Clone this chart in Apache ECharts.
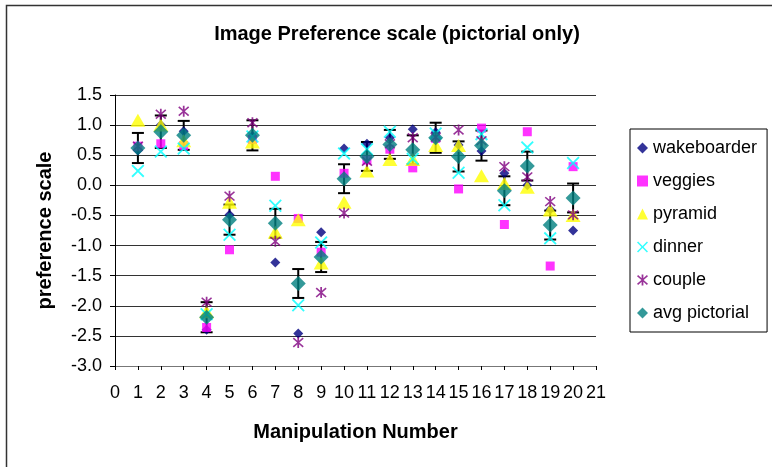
<!DOCTYPE html>
<html>
<head>
<meta charset="utf-8">
<script src="https://cdn.jsdelivr.net/npm/echarts@6/dist/echarts.min.js"></script>
<style>
  html, body { margin: 0; padding: 0; background: #fff; }
  #main { width: 772px; height: 467px; }
</style>
</head>
<body>
<div id="main"></div>
<script>
const xValues = [1, 2, 3, 4, 5, 6, 7, 8, 9, 10, 11, 12, 13, 14, 15, 16, 17, 18, 19, 20];
const wakeboarder = [0.58, 1.0, 0.9, -2.4, -0.49, 0.82, -1.28, -2.46, -0.78, 0.61, 0.69, 0.79, 0.93, 0.88, 0.67, 0.57, 0.2, 0.0, -0.4, -0.75];
const veggies = [0.65, 0.69, 0.66, -2.36, -1.07, 0.76, 0.15, -0.55, -1.11, 0.2, 0.42, 0.6, 0.29, 0.78, -0.06, 0.95, -0.65, 0.89, -1.34, 0.31];
const pyramid = [1.08, 1.0, 0.74, -2.1, -0.28, 0.72, -0.78, -0.57, -1.29, -0.28, 0.24, 0.43, 0.43, 0.66, 0.66, 0.16, 0.03, -0.03, -0.41, -0.5];
const dinner = [0.24, 0.56, 0.61, -2.14, -0.82, 0.81, -0.34, -1.99, -0.95, 0.53, 0.6, 0.89, 0.44, 0.86, 0.21, 0.85, -0.33, 0.63, -0.88, 0.37];
const couple = [0.65, 1.18, 1.23, -1.94, -0.18, 1.04, -0.93, -2.61, -1.78, -0.46, 0.4, 0.69, 0.79, 0.8, 0.92, 0.74, 0.31, 0.14, -0.27, -0.49];
const avgPictorial = [0.62, 0.89, 0.83, -2.19, -0.57, 0.83, -0.63, -1.63, -1.19, 0.11, 0.48, 0.68, 0.59, 0.79, 0.48, 0.66, -0.09, 0.32, -0.66, -0.21];
const errHalf = [0.25, 0.27, 0.24, 0.25, 0.25, 0.25, 0.24, 0.24, 0.25, 0.24, 0.24, 0.24, 0.24, 0.25, 0.25, 0.25, 0.24, 0.24, 0.24, 0.24];
const yTicks = [-3.0, 1.5, 0.5];   // min, max, interval
const xTicks = [0, 21, 1];

const FONT = '"Liberation Sans", Arial, sans-serif';
const crossPath = 'path://M0,1 L1,0 L5,4 L9,0 L10,1 L6,5 L10,9 L9,10 L5,6 L1,10 L0,9 L4,5 Z';
const starPath = 'path://M0,1.5 L1,0.5 L5,4 L9,0.5 L10,1.5 L6,5 L10,8.5 L9,9.5 L5,6 L1,9.5 L0,8.5 L4,5 Z M4.2,0 L5.8,0 L5.8,10 L4.2,10 Z';

function pts(arr) { return arr.map((v, i) => [xValues[i], v]); }

const chart = echarts.init(document.getElementById('main'));

const option = {
  animation: false,
  backgroundColor: '#fff',
  textStyle: { fontFamily: FONT },
  graphic: [{
    type: 'rect',
    shape: { x: 6.5, y: 5.5, width: 800, height: 500 },
    style: { fill: 'none', stroke: '#333', lineWidth: 1.5 },
    silent: true
  }],
  title: {
    text: 'Image Preference scale (pictorial only)',
    left: 392,
    top: 19,
    textAlign: 'center',
    textStyle: { fontFamily: FONT, fontWeight: 'bold', fontSize: 20, color: '#000' }
  },
  grid: { left: 115, right: 176, top: 95, bottom: 101, containLabel: false },
  legend: {
    orient: 'vertical',
    left: 630,
    top: 129,
    itemWidth: 11,
    itemHeight: 11,
    itemGap: 15,
    padding: [10, 10, 10, 7],
    borderColor: '#000',
    borderWidth: 1,
    textStyle: { fontFamily: FONT, fontSize: 18, color: '#000' },
    data: ['wakeboarder', 'veggies', 'pyramid', 'dinner', 'couple', 'avg pictorial']
  },
  xAxis: {
    type: 'value',
    min: xTicks[0], max: xTicks[1], interval: xTicks[2],
    name: 'Manipulation Number',
    nameLocation: 'middle',
    nameGap: 56,
    nameTextStyle: { fontFamily: FONT, fontWeight: 'bold', fontSize: 20, color: '#000' },
    axisLine: { onZero: false, lineStyle: { color: '#777', width: 1 } },
    axisTick: { inside: false, length: 4, lineStyle: { color: '#000' } },
    axisLabel: { fontFamily: FONT, fontSize: 18, color: '#000', margin: 18 },
    splitLine: { show: false }
  },
  yAxis: {
    type: 'value',
    min: yTicks[0], max: yTicks[1], interval: yTicks[2],
    name: 'preference scale',
    nameLocation: 'middle',
    nameGap: 60,
    nameTextStyle: { fontFamily: FONT, fontWeight: 'bold', fontSize: 20, color: '#000' },
    axisLine: { show: true, lineStyle: { color: '#000', width: 1 } },
    axisTick: { show: true, length: 5, lineStyle: { color: '#000' } },
    axisLabel: { fontFamily: FONT, fontSize: 18, color: '#000', margin: 13, formatter: v => v.toFixed(1) },
    splitLine: { show: true, lineStyle: { color: '#333', width: 1 } }
  },
  series: [
    { name: 'wakeboarder', type: 'scatter', symbol: 'diamond', symbolSize: 10,
      itemStyle: { color: '#000080' }, data: pts(wakeboarder) },
    { name: 'veggies', type: 'scatter', symbol: 'rect', symbolSize: 9,
      itemStyle: { color: '#FF00FF' }, data: pts(veggies) },
    { name: 'pyramid', type: 'scatter', symbol: 'triangle', symbolSize: [15, 13],
      itemStyle: { color: '#FFFF00' }, data: pts(pyramid) },
    { name: 'dinner', type: 'scatter', symbol: crossPath, symbolSize: 13,
      itemStyle: { color: '#00FFFF' }, data: pts(dinner) },
    { name: 'couple', type: 'scatter', symbol: starPath, symbolSize: 11,
      itemStyle: { color: '#800080' }, data: pts(couple) },
    {
      name: 'error', type: 'custom',
      data: avgPictorial.map((v, i) => [xValues[i], v - errHalf[i], v + errHalf[i]]),
      renderItem: function (params, api) {
        const lo = api.coord([api.value(0), api.value(1)]);
        const hi = api.coord([api.value(0), api.value(2)]);
        const w = 6;
        const st = { stroke: '#000', lineWidth: 2 };
        return {
          type: 'group',
          children: [
            { type: 'line', shape: { x1: hi[0], y1: hi[1], x2: lo[0], y2: lo[1] }, style: st },
            { type: 'line', shape: { x1: hi[0] - w, y1: hi[1], x2: hi[0] + w, y2: hi[1] }, style: st },
            { type: 'line', shape: { x1: lo[0] - w, y1: lo[1], x2: lo[0] + w, y2: lo[1] }, style: st }
          ]
        };
      },
      silent: true
    },
    { name: 'avg pictorial', type: 'scatter', symbol: 'diamond', symbolSize: 15,
      itemStyle: { color: '#008080' }, data: pts(avgPictorial) }
  ]
};

chart.setOption(option);
</script>
</body>
</html>
